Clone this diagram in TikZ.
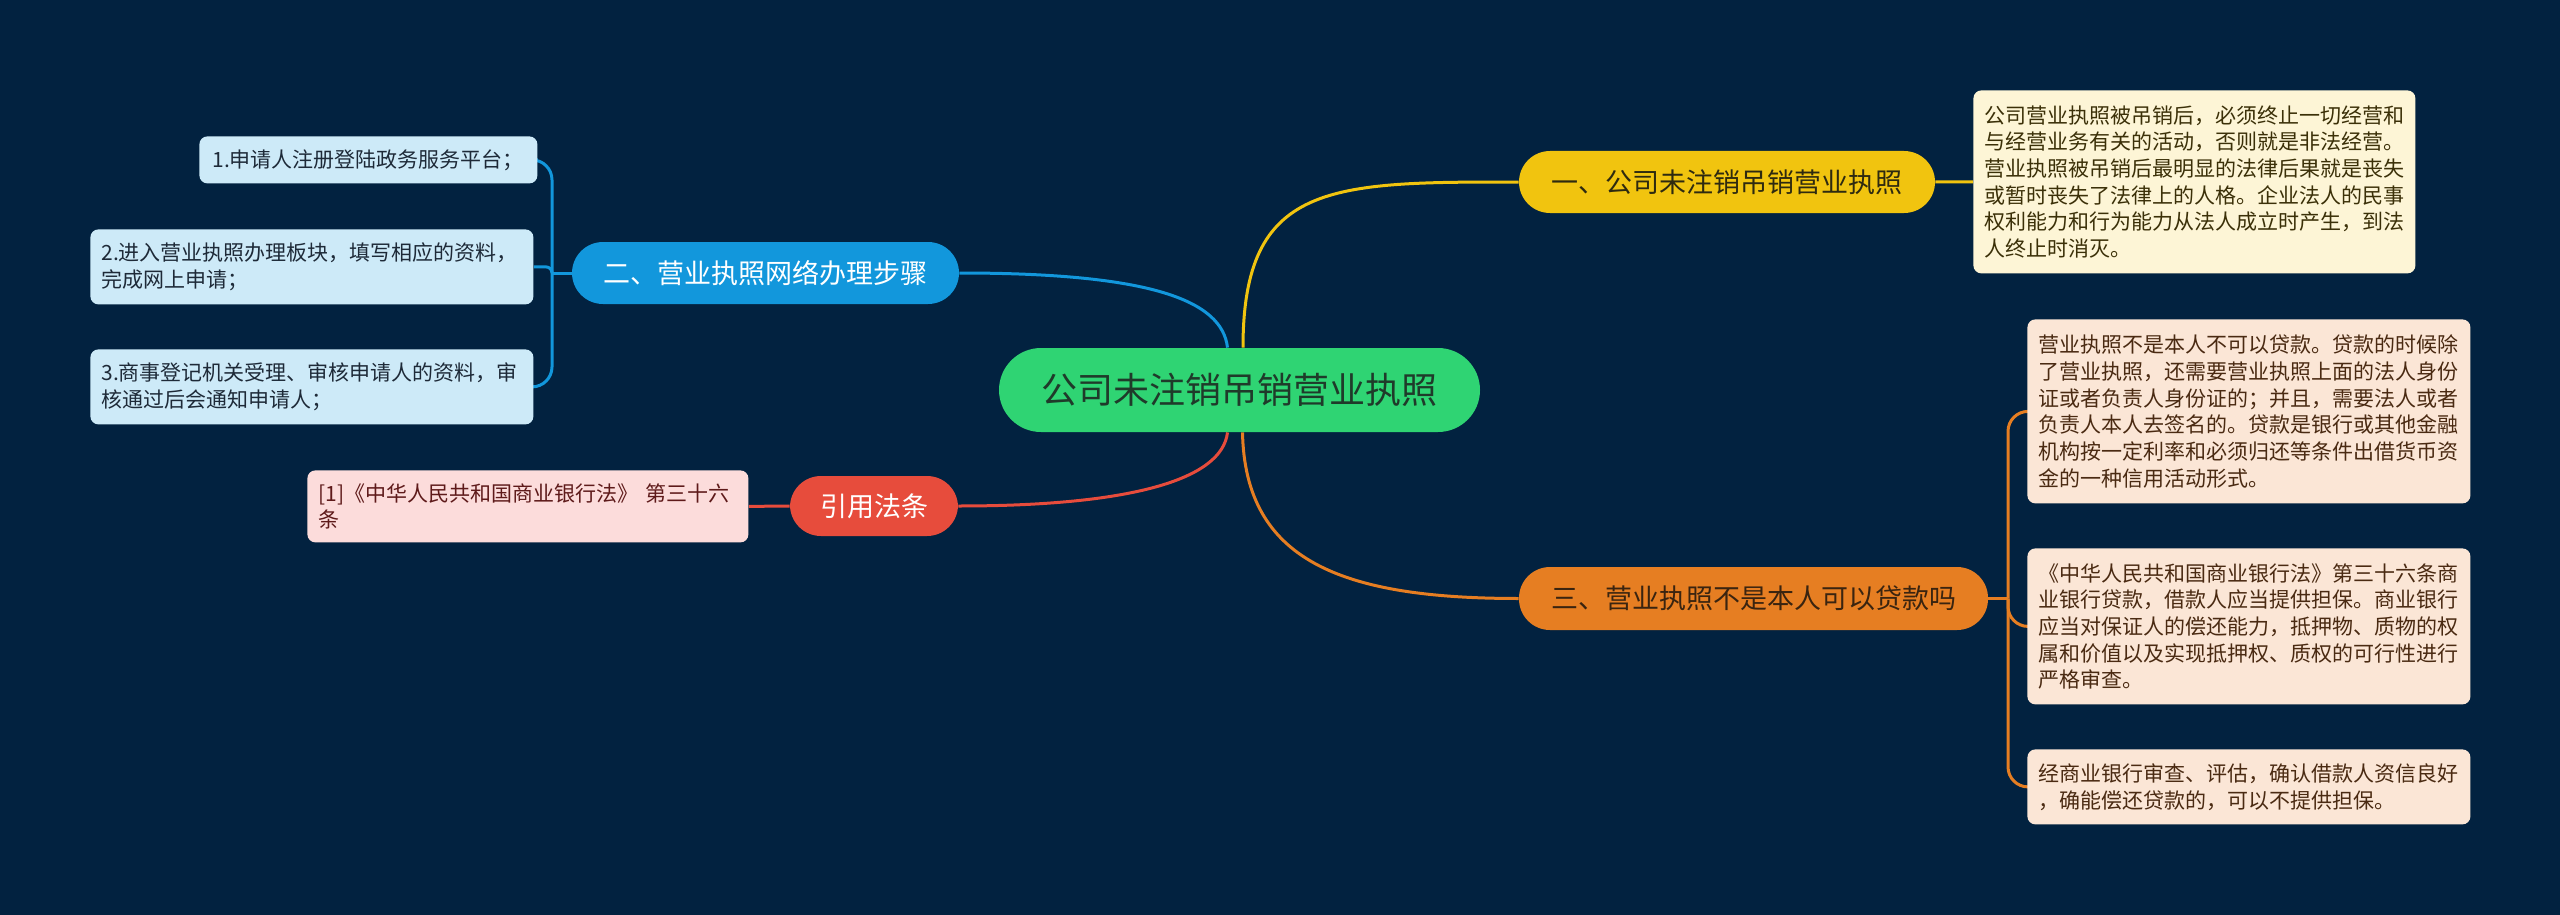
\documentclass[tikz,border=0pt]{standalone}
\usepackage{fontspec}
\setmainfont{Noto Sans CJK SC}
\usetikzlibrary{positioning}
\definecolor{bg}{HTML}{022240}
\definecolor{cgreen}{HTML}{2FD473}
\definecolor{cyellow}{HTML}{F1C40F}
\definecolor{corange}{HTML}{E67E22}
\definecolor{cblue}{HTML}{1297DC}
\definecolor{cred}{HTML}{E74C3C}
\definecolor{fyellow}{HTML}{FDF5D6}
\definecolor{forange}{HTML}{FBE6D6}
\definecolor{fblue}{HTML}{CDEAF8}
\definecolor{fred}{HTML}{FCDCDB}
\definecolor{tdark}{HTML}{1F3A2A}
\definecolor{tyellow}{HTML}{2E2A10}
\definecolor{torange}{HTML}{3A2410}
\definecolor{tybox}{HTML}{3B3008}
\definecolor{tobox}{HTML}{4A2A12}
\definecolor{tbbox}{HTML}{1E2A38}
\definecolor{trbox}{HTML}{5E1A1A}
\pgfdeclarelayer{back}
\pgfdeclarelayer{edges}
\pgfsetlayers{back,edges,main}
\tikzset{
  pill/.style={rectangle, rounded corners=15.5pt, minimum height=31pt, inner sep=0pt,
    font=\fontsize{13.5}{16}\selectfont},
  infobox/.style={rectangle, rounded corners=4pt, inner xsep=5.5pt, inner ysep=0pt,
    align=left, anchor=north west, font=\fontsize{10.5}{13.35}\selectfont},
  edge/.style={line width=1.5pt},
}
\begin{document}
\begin{tikzpicture}[x=0.5pt,y=-0.5pt]
\useasboundingbox (0,0) rectangle (2560,915);
\begin{pgfonlayer}{back}
\fill[bg] (0,0) rectangle (2560,915);
\end{pgfonlayer}

% central and main topics
\node[pill, fill=cgreen, text=tdark, rounded corners=21pt, minimum width=240.5pt, minimum height=42pt,
  font=\fontsize{18}{21}\selectfont] (C) at (1239.5,390) {公司未注销吊销营业执照};
\node[pill, fill=cyellow, text=tyellow, minimum width=208pt] (N1) at (1727,182) {一、公司未注销吊销营业执照};
\node[pill, fill=corange, text=torange, minimum width=234.5pt, minimum height=31.5pt] (N3) at (1753.5,598.5) {三、营业执照不是本人可以贷款吗};
\node[pill, fill=cblue, text=white, minimum width=193.5pt] (N2) at (765.5,273) {二、营业执照网络办理步骤};
\node[pill, fill=cred, text=white, minimum width=84pt, minimum height=30pt] (NR) at (874,506) {引用法条};

% detail boxes
\node[infobox, fill=fyellow, text=tybox, minimum width=221pt, minimum height=91.5pt, text width=210pt] (Y) at (1973,90)
 {公司营业执照被吊销后，必须终止一切经营和\\与经营业务有关的活动，否则就是非法经营。\\营业执照被吊销后最明显的法律后果就是丧失\\或暂时丧失了法律上的人格。企业法人的民事\\权利能力和行为能力从法人成立时产生，到法\\人终止时消灭。};
\node[infobox, fill=forange, text=tobox, minimum width=221.5pt, minimum height=92pt, text width=210.5pt] (Oa) at (2027,319)
 {营业执照不是本人不可以贷款。贷款的时候除\\了营业执照，还需要营业执照上面的法人身份\\证或者负责人身份证的；并且，需要法人或者\\负责人本人去签名的。贷款是银行或其他金融\\机构按一定利率和必须归还等条件出借货币资\\金的一种信用活动形式。};
\node[infobox, fill=forange, text=tobox, minimum width=221.5pt, minimum height=78pt, text width=210.5pt] (Ob) at (2027,548)
 {《中华人民共和国商业银行法》第三十六条商\\业银行贷款，借款人应当提供担保。商业银行\\应当对保证人的偿还能力，抵押物、质物的权\\属和价值以及实现抵押权、质权的可行性进行\\严格审查。};
\node[infobox, fill=forange, text=tobox, minimum width=221.5pt, minimum height=37.5pt, text width=210.5pt] (Oc) at (2027,749)
 {经商业银行审查、评估，确认借款人资信良好\\，确能偿还贷款的，可以不提供担保。};
\node[infobox, fill=fblue, text=tbbox, minimum width=167pt, minimum height=23.5pt, text width=156pt, inner xsep=6.5pt] (B1) at (199,136)
 {1.申请人注册登陆政务服务平台；};
\node[infobox, fill=fblue, text=tbbox, minimum width=221.5pt, minimum height=37.5pt, text width=210.5pt] (B2) at (90,229)
 {2.进入营业执照办理板块，填写相应的资料，\\完成网上申请；};
\node[infobox, fill=fblue, text=tbbox, minimum width=221.5pt, minimum height=37.5pt, text width=210.5pt] (B3) at (90,349)
 {3.商事登记机关受理、审核申请人的资料，审\\核通过后会通知申请人；};
\node[infobox, fill=fred, text=trbox, minimum width=220.5pt, minimum height=36pt, text width=209.5pt] (R) at (307,470)
 {[1]《中华人民共和国商业银行法》 第三十六\\条};

\coordinate (bj) at (552,273);
\coordinate (oj) at (2008,598.5);

\begin{pgfonlayer}{edges}
\draw[edge, cyellow] ([xshift=1.75pt]C.north) .. controls (1243,182) and (1330,182) .. (N1.west);
\draw[edge, cblue] ([xshift=-6pt]C.north) .. controls (1222,300) and (1150,273) .. (N2.east);
\draw[edge, cred] ([xshift=-6pt]C.south) .. controls (1222,480) and (1130,506) .. (NR.east);
\draw[edge, corange] ([xshift=1.5pt]C.south) .. controls (1245,560) and (1340,598.5) .. (N3.west);
\draw[edge, cyellow] (N1.east) -- (Y.west);
\draw[edge, cred] (NR.west) -- (R.east);
\draw[edge, cblue] (N2.west) -- (bj);
\draw[edge, cblue, rounded corners=10pt] (bj) |- (B1.east);
\draw[edge, cblue, rounded corners=3pt] (bj) |- (B2.east);
\draw[edge, cblue, rounded corners=10pt] (bj) |- (B3.east);
\draw[edge, corange] (N3.east) -- (oj);
\draw[edge, corange, rounded corners=10pt] (oj) |- (Oa.west);
\draw[edge, corange, rounded corners=10pt] (oj) |- (Ob.west);
\draw[edge, corange, rounded corners=10pt] (oj) |- (Oc.west);
\end{pgfonlayer}
\end{tikzpicture}
\end{document}
